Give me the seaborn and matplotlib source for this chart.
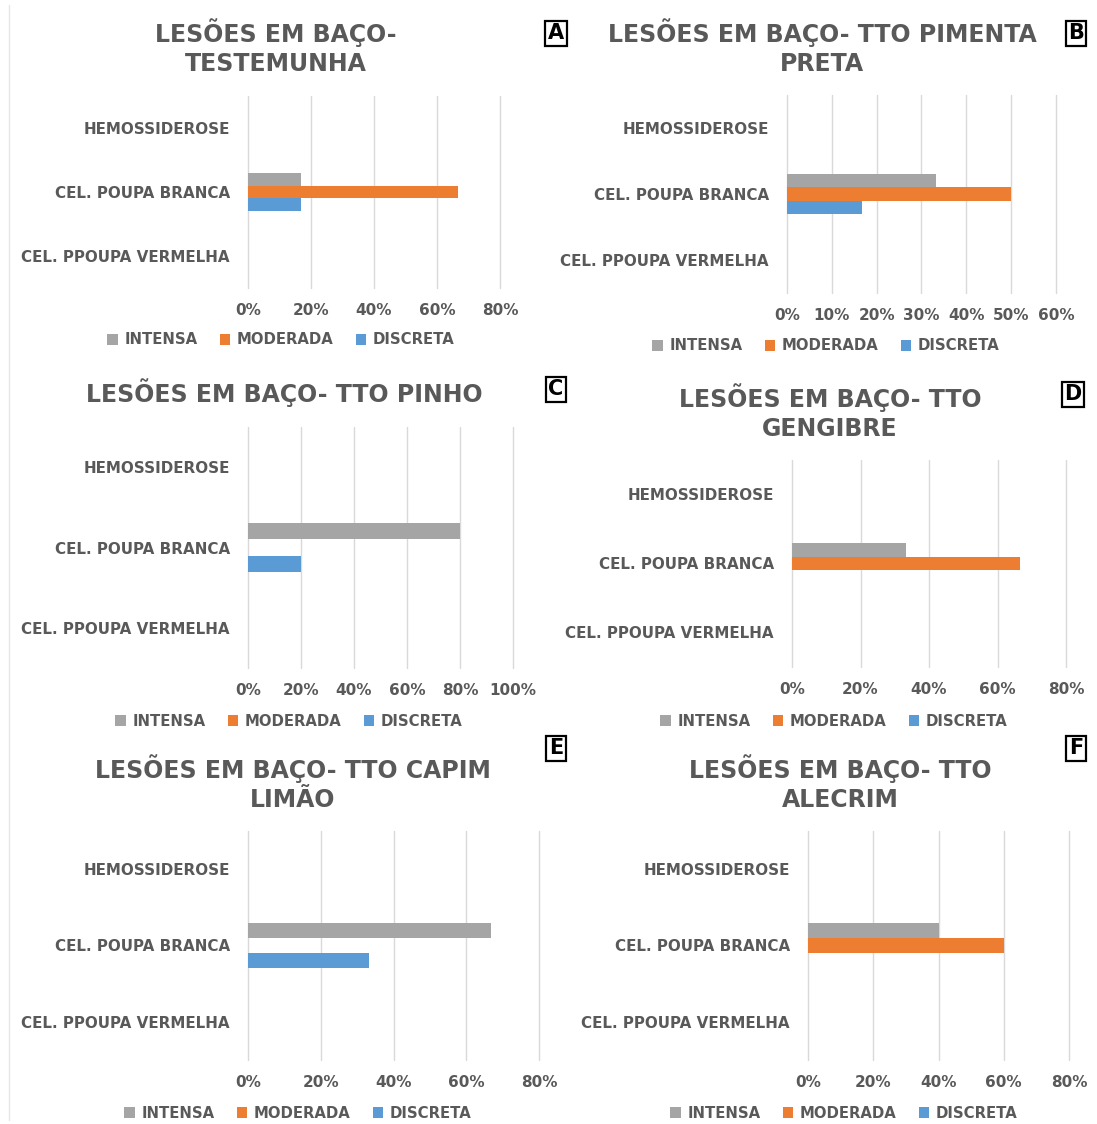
import matplotlib
matplotlib.use("Agg")
import matplotlib.pyplot as plt
import seaborn as sns
import pandas as pd
from matplotlib.ticker import PercentFormatter, MultipleLocator
from matplotlib.patches import Patch

sns.set_theme(style="white")
plt.rcParams['font.family'] = ['DejaVu Sans']

# ---------------- data ----------------
categories = ["HEMOSSIDEROSE", "CEL. POUPA BRANCA", "CEL. PPOUPA VERMELHA"]
series = ["INTENSA", "MODERADA", "DISCRETA"]
colors = {"INTENSA": "#A5A5A5", "MODERADA": "#ED7D31", "DISCRETA": "#5B9BD5"}

titles = [
    "LESÕES EM BAÇO-\nTESTEMUNHA",
    "LESÕES EM BAÇO- TTO PIMENTA\nPRETA",
    "LESÕES EM BAÇO- TTO PINHO",
    "LESÕES EM BAÇO- TTO\nGENGIBRE",
    "LESÕES EM BAÇO- TTO CAPIM\nLIMÃO",
    "LESÕES EM BAÇO- TTO\nALECRIM",
]
panel_letters = ["A", "B", "C", "D", "E", "F"]

# values per panel: [HEMOSSIDEROSE, CEL. POUPA BRANCA, CEL. PPOUPA VERMELHA]
intensa_vals = [
    [0, 0.167, 0],
    [0, 0.333, 0],
    [0, 0.80, 0],
    [0, 0.333, 0],
    [0, 0.667, 0],
    [0, 0.40, 0],
]
moderada_vals = [
    [0, 0.667, 0],
    [0, 0.50, 0],
    [0, 0, 0],
    [0, 0.667, 0],
    [0, 0, 0],
    [0, 0.60, 0],
]
discreta_vals = [
    [0, 0.167, 0],
    [0, 0.167, 0],
    [0, 0.20, 0],
    [0, 0, 0],
    [0, 0.333, 0],
    [0, 0, 0],
]
xmax_vals = [0.8, 0.6, 1.0, 0.8, 0.8, 0.8]
xstep_vals = [0.2, 0.1, 0.2, 0.2, 0.2, 0.2]

# ---------------- layout (pixels) ----------------
W, H = 1097, 1124
fig = plt.figure(figsize=(W / 100, H / 100), dpi=100)
fig.patch.set_facecolor("white")

# axes boxes: left, right, top, bottom
axes_px = [
    (248, 500, 96, 288),
    (787, 1056, 95, 293),
    (248, 513, 427, 668),
    (792, 1066, 460, 667),
    (248, 539, 831, 1060),
    (808, 1069, 831, 1060),
]
title_px = [(276, 47), (822, 47), (284, 393), (830, 412), (293, 783), (840, 783)]
box_px = [(556, 33), (1076, 33), (556, 389), (1073, 394), (556, 748), (1076, 748)]
legend_px = [(281, 340), (826, 346), (289, 721), (834, 721), (298, 1113), (844, 1113)]

TXT = "#595959"

def fx(x):
    return x / W

def fy(y):
    return 1 - y / H

for i in range(6):
    l, r, t, b = axes_px[i]
    ax = fig.add_axes([fx(l), fy(b), (r - l) / W, (b - t) / H])
    rows = []
    for s, vals in zip(series, [intensa_vals[i], moderada_vals[i], discreta_vals[i]]):
        for c, v in zip(categories, vals):
            rows.append({"cat": c, "sev": s, "val": v})
    df = pd.DataFrame(rows)
    sns.barplot(data=df, x="val", y="cat", hue="sev", order=categories,
                hue_order=series, palette=colors, orient="h", width=0.6,
                saturation=1, errorbar=None, linewidth=0, legend=False, ax=ax)
    ax.set_xlim(0, xmax_vals[i])
    ax.set_ylim(2.5, -0.5)
    ax.xaxis.set_major_locator(MultipleLocator(xstep_vals[i]))
    ax.xaxis.set_major_formatter(PercentFormatter(1.0, decimals=0))
    ax.set_xlabel("")
    ax.set_ylabel("")
    for sp in ax.spines.values():
        sp.set_visible(False)
    ax.grid(axis="x", color="#D9D9D9", linewidth=1.0, clip_on=False)
    ax.grid(axis="y", visible=False)
    ax.set_axisbelow(True)
    ax.tick_params(axis="both", length=0, colors=TXT)
    ax.tick_params(axis="y", pad=13, labelsize=10.9)
    ax.tick_params(axis="x", pad=11, labelsize=11)
    for lab in ax.get_xticklabels() + ax.get_yticklabels():
        lab.set_fontweight("bold")
        lab.set_color(TXT)

    fig.text(fx(title_px[i][0]), fy(title_px[i][1]), titles[i], ha="center", va="center",
             fontsize=17, fontweight="bold", color=TXT, linespacing=1.22)
    fig.text(fx(box_px[i][0]), fy(box_px[i][1]), panel_letters[i], ha="center", va="center",
             fontsize=15, fontweight="bold", color="black",
             bbox=dict(boxstyle="square,pad=0.12", fc="white", ec="black", lw=1.6))
    handles = [Patch(facecolor=colors[s], edgecolor="none", label=s) for s in series]
    leg = fig.legend(handles=handles, loc="center", ncol=3, frameon=False,
                     bbox_to_anchor=(fx(legend_px[i][0]), fy(legend_px[i][1])),
                     handlelength=0.7, handleheight=0.7, handletextpad=0.45,
                     columnspacing=1.5, fontsize=10.7)
    for txt in leg.get_texts():
        txt.set_fontweight("bold")
        txt.set_color(TXT)

# faint page edge line on the left
fig.add_artist(plt.Line2D([fx(9), fx(9)], [fy(5), fy(1120)], color="#E6E6E6", lw=1))

fig.savefig("out.png", dpi=100, facecolor="white")
